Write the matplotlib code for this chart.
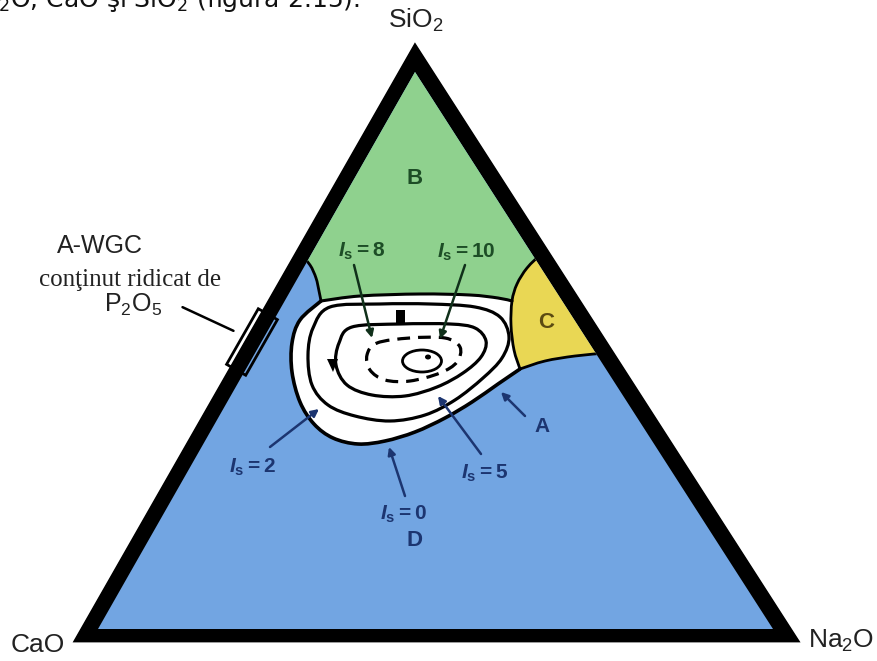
import matplotlib.pyplot as plt
import numpy as np
from matplotlib.path import Path
from matplotlib.patches import PathPatch, Polygon, Ellipse, Rectangle

plt.rcParams['mathtext.fontset'] = 'custom'
plt.rcParams['mathtext.rm'] = 'Liberation Sans:bold'
plt.rcParams['mathtext.it'] = 'Liberation Sans:italic:bold'
plt.rcParams['mathtext.bf'] = 'Liberation Sans:bold'

W, H = 877, 661

# triangle corners in pixel space (CaO, Na2O, SiO2)
outer_tri = [(75, 641), (798, 641), (415, 45)]
inner_tri = [(98, 629), (773, 629), (415, 72)]

# region boundaries
green_blue_left = [(300, 254), (310, 265), (316, 278), (319, 291), (321, 301)]
green_white = [(321, 301), (360, 296), (420, 294), (470, 295), (498, 298), (512, 301)]
yellow_left = [(541, 254), (527, 268), (517, 284), (512, 301), (511, 325), (514, 350), (520, 369)]
yellow_bottom = [(520, 369), (545, 361), (575, 356), (606, 353)]
white_blue = [(520, 369), (498, 384), (472, 402), (445, 418), (415, 432), (385, 441),
              (358, 444), (333, 438), (314, 424), (300, 402), (292, 372), (292, 343),
              (300, 320), (321, 301)]

# I_s contours
ring2 = [(330, 307), (380, 304), (430, 304), (475, 307), (500, 317), (509, 337), (502, 358),
         (483, 378), (455, 400), (425, 415), (390, 421), (355, 416), (328, 405), (312, 385),
         (308, 355), (313, 328)]
ring5 = [(352, 327), (400, 324), (450, 324), (475, 328), (486, 341), (481, 357), (463, 373),
         (437, 387), (405, 396), (372, 395), (347, 385), (336, 365), (339, 343)]
ring8 = [(377, 343), (410, 338), (445, 338), (460, 347), (457, 362), (440, 373), (410, 381),
         (385, 380), (370, 370), (367, 355)]
ring10_center, ring10_size = (422, 361), (39, 22)

blue = '#72a5e2'
green = '#8fd18e'
yellow = '#e9d754'
dark_blue = '#1c3570'
dark_green = '#1d4d26'


def spline(pts, closed=False):
    p = np.asarray(pts, float)
    n = len(p)
    verts = [p[0]]
    codes = [Path.MOVETO]
    segs = n if closed else n - 1
    for i in range(segs):
        p0 = p[(i - 1) % n] if (closed or i > 0) else p[0]
        p1 = p[i % n]
        p2 = p[(i + 1) % n]
        p3 = p[(i + 2) % n] if (closed or i + 2 < n) else p[-1]
        verts += [p1 + (p2 - p0) / 6, p2 - (p3 - p1) / 6, p2]
        codes += [Path.CURVE4] * 3
    if closed:
        verts.append(p[0])
        codes.append(Path.CLOSEPOLY)
    return np.array(verts), codes


def region(pieces):
    # pieces: list of (kind, points, reverse); joined into one closed path
    verts, codes = [], []
    for kind, pts, rev in pieces:
        pts = list(pts)[::-1] if rev else list(pts)
        if kind == 'c':
            v, c = spline(pts)
        else:
            v = np.asarray(pts, float)
            c = [Path.MOVETO] + [Path.LINETO] * (len(pts) - 1)
        if verts:
            c = [Path.LINETO] + list(c[1:])
        verts += list(v)
        codes += list(c)
    verts.append(verts[0])
    codes.append(Path.CLOSEPOLY)
    return Path(verts, codes)


fig = plt.figure(figsize=(W / 100, H / 100), dpi=100)
ax = fig.add_axes([0, 0, 1, 1])
ax.set_xlim(0, W)
ax.set_ylim(H, 0)
ax.axis('off')

ax.add_patch(Polygon(outer_tri, closed=True, fc='black', ec='black', lw=1, zorder=1))
clip = Polygon(inner_tri, closed=True, fc=blue, ec='none', zorder=2)
ax.add_patch(clip)

green_path = region([('l', [(300, 254), (280, 230), (415, 20), (570, 230), (541, 254)], False),
                     ('c', yellow_left[:4], False),
                     ('c', green_white, True),
                     ('c', green_blue_left, True)])
gp = PathPatch(green_path, fc=green, ec='none', zorder=3)
ax.add_patch(gp)
gp.set_clip_path(clip)

yellow_path = region([('c', yellow_left, False),
                      ('c', yellow_bottom, False),
                      ('l', [(606, 353), (640, 330), (570, 230), (541, 254)], False)])
yp = PathPatch(yellow_path, fc=yellow, ec='none', zorder=3)
ax.add_patch(yp)
yp.set_clip_path(clip)

white_path = region([('c', green_white, False),
                     ('c', yellow_left[3:], False),
                     ('c', white_blue, False)])
ax.add_patch(PathPatch(white_path, fc='white', ec='none', zorder=3))

# boundary lines
for curve, lw in [(green_blue_left, 2), (green_white, 2.2), (yellow_left, 2),
                  (yellow_bottom, 2), (white_blue, 2.6)]:
    v, c = spline(curve)
    bp = PathPatch(Path(v, c), fc='none', ec='black', lw=lw, zorder=4, capstyle='round')
    ax.add_patch(bp)
    bp.set_clip_path(clip)

# contours
for ring, ls in [(ring2, '-'), (ring5, '-'), (ring8, (0, (4, 2.5)))]:
    v, c = spline(ring, closed=True)
    ax.add_patch(PathPatch(Path(v, c), fc='none', ec='black', lw=2.3, ls=ls, zorder=5))
ax.add_patch(Ellipse(ring10_center, *ring10_size, fc='none', ec='black', lw=2, zorder=5))
ax.add_patch(Ellipse((428, 357), 6, 5, fc='black', ec='none', zorder=5))
ax.add_patch(Rectangle((396, 310), 9, 15, fc='black', ec='none', zorder=5))
ax.add_patch(Polygon([(327, 359), (338, 359), (333, 372)], closed=True, fc='black', zorder=6))

ax.add_patch(Polygon(outer_tri, closed=True, fc='none', ec='black', lw=2, zorder=7))

# region letters
letter_kw = dict(fontsize=16, fontweight='bold', ha='center', va='center',
                 family='Liberation Sans', zorder=8)
ax.text(415, 178, 'B', color=dark_green, **letter_kw)
ax.text(546, 322, 'C', color='#5b4b12', **letter_kw)
ax.text(415, 540, 'D', color=dark_blue, **letter_kw)
ax.text(542, 426, 'A', color=dark_blue, fontsize=15, fontweight='bold', ha='center',
        va='center', family='Liberation Sans', zorder=8)

# I_s labels with leader arrows
labels = ['$I_\\mathbf{s}=8$', '$I_\\mathbf{s}=10$', '$I_\\mathbf{s}=2$',
          '$I_\\mathbf{s}=0$', '$I_\\mathbf{s}=5$', '']
label_xy = [(362, 251), (466, 252), (252, 467), (403, 514), (485, 473), (0, 0)]
arrow_tail = [(354, 265), (465, 265), (270, 447), (405, 496), (481, 454), (525, 416)]
arrow_head = [(372, 338), (440, 339), (319, 409), (389, 447), (438, 396), (501, 392)]
label_color = [dark_green, dark_green, dark_blue, dark_blue, dark_blue, dark_blue]
arrow_color = ['#10301a', '#10301a', dark_blue, dark_blue, dark_blue, dark_blue]

for lab, (lx, ly), tail, head, lc, ac in zip(labels, label_xy, arrow_tail, arrow_head,
                                              label_color, arrow_color):
    ax.annotate('', xy=head, xytext=tail, zorder=8,
                arrowprops=dict(arrowstyle='-|>', color=ac, lw=1.8, mutation_scale=11,
                                shrinkA=0, shrinkB=0))
    if lab:
        ax.text(lx, ly, lab, fontsize=15, color=lc, ha='center', va='center', zorder=8)

# vertex labels
vert_kw = dict(fontsize=19, ha='center', va='center', family='Liberation Sans', color='#222222')
ax.text(416, 20, r'$\mathregular{SiO_2}$', **vert_kw)
ax.text(38, 645, 'CaO', **vert_kw)
ax.text(841, 641, r'$\mathregular{Na_2O}$', **vert_kw)

# A-WGC annotation
ax.text(100, 246, 'A-WGC', fontsize=18, ha='center', va='center', family='Liberation Sans',
        color='#222222')
ax.text(130, 280, 'conţinut ridicat de', fontsize=18, ha='center', va='center',
        family='Liberation Serif', color='#222222')
ax.text(133, 305, r'$\mathregular{P_2O_5}$', fontsize=18, ha='center', va='center',
        family='Liberation Sans', color='#222222')
ax.annotate('', xy=(236, 332), xytext=(180, 306),
            arrowprops=dict(arrowstyle='-', color='black', lw=1.8), zorder=9)
ax.add_patch(Rectangle((252 - 32, 342 - 11), 64, 22, angle=-60.3, rotation_point='center',
                       fc='none', ec='black', lw=2, zorder=9))

# running text cut at the top edge
ax.text(-2, 7, r'$\mathregular{_2}$O, CaO şi SiO$\mathregular{_2}$ (figura 2.15).', fontsize=18,
        ha='left', va='baseline', family='DejaVu Sans', color='#111111')

fig.savefig('out.png', dpi=100, facecolor='white')
